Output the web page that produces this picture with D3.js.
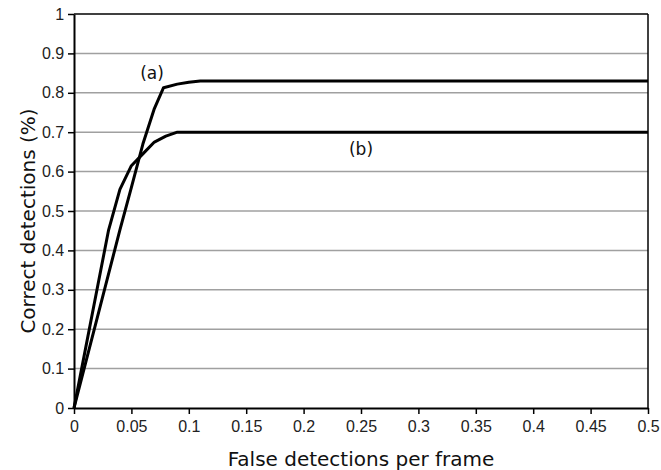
<!DOCTYPE html>
<html><head><meta charset="utf-8">
<script src="https://cdn.jsdelivr.net/npm/d3@7"></script>
<style>body{margin:0;background:#fff}svg{display:block}</style>
</head><body>
<script>
const xTicks = [0,0.05,0.1,0.15,0.2,0.25,0.3,0.35,0.4,0.45,0.5];
const yTicks = [0,0.1,0.2,0.3,0.4,0.5,0.6,0.7,0.8,0.9,1];
const seriesA_x = [0,0.01,0.02,0.03,0.04,0.05,0.06,0.07,0.078,0.09,0.1,0.11,0.5];
const seriesA_y = [0,0.113,0.226,0.339,0.452,0.56,0.67,0.76,0.813,0.822,0.827,0.83,0.83];
const seriesB_x = [0,0.01,0.02,0.03,0.04,0.05,0.06,0.07,0.08,0.09,0.5];
const seriesB_y = [0,0.15,0.3,0.45,0.555,0.615,0.645,0.675,0.69,0.70,0.70];
const labels = [{t:"(a)",x:0.068,y:0.836},{t:"(b)",x:0.25,y:0.642}];

const W=661,H=470, L=74,R=648,T=14,B=408;
const svg=d3.select("body").append("svg").attr("width",W).attr("height",H);
const x=d3.scaleLinear().domain([0,0.5]).range([L,R]);
const y=d3.scaleLinear().domain([0,1]).range([B,T]);

// gridlines
svg.append("g").selectAll("line").data(yTicks.slice(1,-1)).join("line")
  .attr("x1",L).attr("x2",R).attr("y1",d=>y(d)).attr("y2",d=>y(d))
  .attr("stroke","#a0a0a0").attr("stroke-width",1.5);
// frame top/right
svg.append("line").attr("x1",L).attr("x2",R).attr("y1",T).attr("y2",T).attr("stroke","#000").attr("stroke-width",1.5);
svg.append("line").attr("x1",R).attr("x2",R).attr("y1",T).attr("y2",B).attr("stroke","#000").attr("stroke-width",1.5);

const xa=svg.append("g").attr("transform",`translate(0,${B})`)
  .call(d3.axisBottom(x).tickValues(xTicks).tickFormat(d=>d3.format("")(+d.toFixed(2))).tickSize(6).tickSizeOuter(0));
const ya=svg.append("g").attr("transform",`translate(${L},0)`)
  .call(d3.axisLeft(y).tickValues(yTicks).tickFormat(d=>d3.format("")(+d.toFixed(1))).tickSize(6).tickSizeOuter(0));
[xa,ya].forEach(a=>{
  a.select(".domain").attr("stroke","#000").attr("stroke-width",2);
  a.selectAll(".tick line").attr("stroke","#000").attr("stroke-width",1.5);
  a.selectAll("text").attr("font-family","'Liberation Sans',Arial,sans-serif").attr("font-size",16).attr("fill","#222");
});
xa.selectAll("text").attr("dy","0.95em");
ya.selectAll("text").attr("dx","-0.05em");

const line=d3.line().x(d=>x(d[0])).y(d=>y(d[1]));
const dataA=seriesA_x.map((v,i)=>[v,seriesA_y[i]]);
const dataB=seriesB_x.map((v,i)=>[v,seriesB_y[i]]);
[dataA,dataB].forEach(d=>svg.append("path").datum(d).attr("d",line)
  .attr("fill","none").attr("stroke","#000").attr("stroke-width",3).attr("stroke-linejoin","round"));

svg.selectAll(".lab").data(labels).join("text")
  .attr("x",d=>x(d.x)).attr("y",d=>y(d.y)).attr("text-anchor","middle")
  .attr("font-family","'DejaVu Sans',sans-serif").attr("font-size",17).attr("fill","#111").text(d=>d.t);

svg.append("text").attr("x",(L+R)/2).attr("y",466).attr("text-anchor","middle")
  .attr("font-family","'DejaVu Sans',sans-serif").attr("font-size",20).attr("fill","#111")
  .text("False detections per frame");
svg.append("text").attr("transform",`translate(35,221) rotate(-90)`).attr("text-anchor","middle")
  .attr("font-family","'DejaVu Sans',sans-serif").attr("font-size",20).attr("fill","#111")
  .text("Correct detections (%)");
</script>
</body></html>
